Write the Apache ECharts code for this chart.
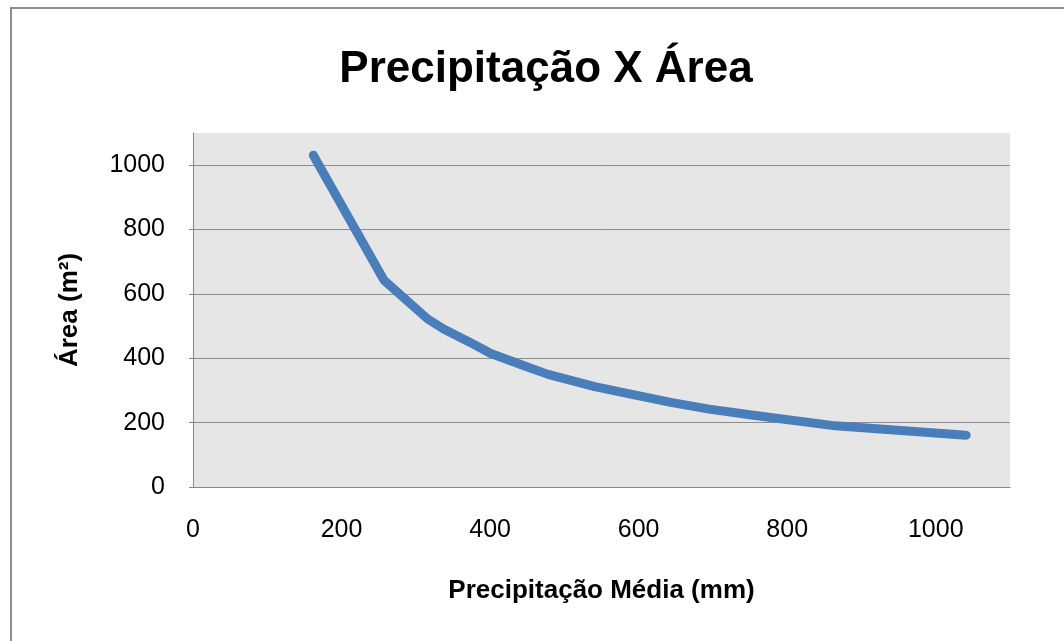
<!DOCTYPE html>
<html><head><meta charset="utf-8">
<script src="https://cdn.jsdelivr.net/npm/echarts@6/dist/echarts.min.js"></script>
<style>html,body{margin:0;padding:0;background:#fff}#c{width:1064px;height:641px}</style>
</head><body><div id="c"></div>
<script>
const precipitation = [162, 257, 316, 338, 374, 401, 442, 478, 541, 586, 645, 695, 757, 865, 1041];
const area = [1031, 643, 522, 490, 448, 415, 380, 350, 312, 290, 262, 242, 222, 190, 161];
const xTicks = [0, 200, 400, 600, 800, 1000];
const yTicks = [0, 200, 400, 600, 800, 1000];
const titleText = 'Precipitação X Área';
const xName = 'Precipitação Média (mm)';
const yName = 'Área (m²)';

const font = '"Liberation Sans", sans-serif';
const chart = echarts.init(document.getElementById('c'));
chart.setOption({
  animation: false,
  graphic: [{type: 'rect', shape: {x: 11, y: 8, width: 1100, height: 700}, style: {fill: 'none', stroke: '#8f8f8f', lineWidth: 2}, z: -10}],
  title: {text: titleText, left: 541, top: 43, textAlign: 'center',
    textStyle: {fontFamily: font, fontWeight: 'bold', fontSize: 44, color: '#000'}},
  grid: {left: 193, right: 54, top: 133, bottom: 154, backgroundColor: '#e6e6e6', show: true, borderWidth: 0},
  xAxis: {type: 'value', min: 0, max: 1100, interval: 200,
    name: xName, nameLocation: 'middle', nameGap: 91,
    nameTextStyle: {fontFamily: font, fontWeight: 'bold', fontSize: 26, color: '#000'},
    axisLine: {show: true, lineStyle: {color: '#868686', width: 1}},
    axisTick: {show: false},
    splitLine: {show: false},
    axisLabel: {customValues: xTicks, margin: 31, fontFamily: font, fontSize: 25, color: '#000', formatter: v => String(v)}},
  yAxis: {type: 'value', min: 0, max: 1100, interval: 200,
    name: yName, nameLocation: 'middle', nameGap: 110, nameRotate: 90,
    nameTextStyle: {fontFamily: font, fontWeight: 'bold', fontSize: 26, color: '#000'},
    axisLine: {show: true, lineStyle: {color: '#868686', width: 1}},
    axisTick: {show: true, customValues: yTicks, length: 4, lineStyle: {color: '#868686'}},
    splitLine: {show: true, lineStyle: {color: ['#8c8c8c','#8c8c8c','#8c8c8c','#8c8c8c','#8c8c8c','#8c8c8c','rgba(0,0,0,0)'], width: 1}},
    axisLabel: {customValues: yTicks, margin: 28, fontFamily: font, fontSize: 25, color: '#000', formatter: v => String(v)}},
  series: [{type: 'line', data: precipitation.map((p, i) => [p, area[i]]),
    showSymbol: false, symbol: 'none',
    lineStyle: {color: '#4a7ebb', width: 9, cap: 'round', join: 'round'}}]
});
</script></body></html>
